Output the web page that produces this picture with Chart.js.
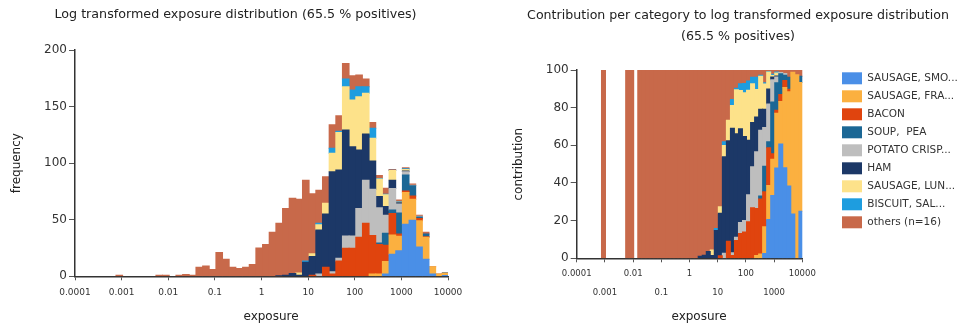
<!DOCTYPE html>
<html>
<head>
<meta charset="utf-8">
<script src="https://cdn.jsdelivr.net/npm/chart.js@4.4.0/dist/chart.umd.min.js"></script>
<style>
    html, body { margin: 0; padding: 0; background: #fff; overflow: hidden; }
    #graficoEsquerdo { position: absolute; left: 0; top: 0; }
    #graficoDireito { position: absolute; left: 512px; top: 0; }
</style>
</head>
<body>
<canvas id="graficoEsquerdo" width="471" height="331"></canvas>
<canvas id="graficoDireito" width="456" height="331"></canvas>
<script>
// Centro de cada classe do histograma, em log10(exposure)
var centrosClasses = [
    -3.050, -2.907, -2.764, -2.621, -2.478, -2.335, -2.193, -2.050, -1.907, -1.764,
    -1.621, -1.478, -1.335, -1.192, -1.050, -0.907, -0.764, -0.621, -0.478, -0.335,
    -0.192, -0.050,  0.093,  0.236,  0.379,  0.522,  0.665,  0.807,  0.950,  1.093,
     1.236,  1.379,  1.522,  1.665,  1.807,  1.950,  2.093,  2.236,  2.379,  2.522,
     2.664,  2.807,  2.950,  3.093,  3.236,  3.379,  3.521,  3.664,  3.807,  3.950
];

// Rotulos do eixo x (potencias de 10, de -4 a 4)
var rotulosEixoX = ['0.0001', '0.001', '0.01', '0.1', '1', '10', '100', '1000', '10000'];

// Frequencias por categoria (de baixo para cima na pilha)
var sausageSmo = [
    0, 0, 0, 0, 0, 0, 0, 0, 0, 0,
    0, 0, 0, 0, 0, 0, 0, 0, 0, 0,
    0, 0, 0, 0, 0, 0, 0, 0, 0, 0,
    0, 0, 0, 0, 0, 0, 0, 0, 0, 0,
    2, 19.5, 22.5, 46, 49.5, 26, 15, 2, 0, 0.75
];
var sausageFra = [
    0, 0, 0, 0, 0, 0, 0, 0, 0, 0,
    0, 0, 0, 0, 0, 0, 0, 0, 0, 0,
    0, 0, 0, 0, 0, 0, 0, 0, 0, 0,
    0, 0, 0, 0, 0, 0, 0, 0, 2, 2,
    11, 17, 13, 28, 18.5, 23, 19.5, 6.4, 1.95, 2.05
];
var bacon = [
    0, 0, 0, 0, 0, 0, 0, 0, 0, 0,
    0, 0, 0, 0, 0, 0, 0, 0, 0, 0,
    0, 0, 0, 0, 0, 0, 0, 0, 0, 1,
    0, 8, 2, 13.5, 24.7, 24.7, 34.5, 46.8, 34, 26,
    14.5, 19, 2, 1.5, 3, 2, 0.5, 0, 0, 0
];
var soupPea = [
    0, 0, 0, 0, 0, 0, 0, 0, 0, 0,
    0, 0, 0, 0, 0, 0, 0, 0, 0, 0,
    0, 0, 0, 0, 0, 0, 0, 0, 0, 0,
    0, 0, 0, 0, 0, 0, 0, 0, 0, 1.5,
    10.5, 3, 18.5, 14, 9, 1.5, 2.5, 0, 0, 0.1
];
var potatoCrisp = [
    0, 0, 0, 0, 0, 0, 0, 0, 0, 0,
    0, 0, 0, 0, 0, 0, 0, 0, 0, 0,
    0, 0, 0, 0, 0, 0, 0, 0, 0, 0,
    2, 0, 2, 2.4, 11, 11, 25.5, 38, 41, 31,
    16, 19, 8, 3, 0.5, 0.5, 0, 0, 0, 0
];
var ham = [
    0, 0, 0, 0, 0, 0, 0, 0, 0, 0,
    0, 0, 0, 0, 0, 0, 0, 0, 0, 0,
    0, 0, 0, 0, 0.5, 1, 2.5, 1, 12.5, 16.5,
    39, 47, 88.5, 78.1, 93.6, 78.9, 51.6, 41, 25, 10,
    7.6, 7.5, 1, 0.5, 0, 0, 0, 0, 0, 0
];
var sausageLun = [
    0, 0, 0, 0, 0, 0, 0, 0, 0, 0,
    0, 0, 0, 0, 0, 0, 0, 0, 0, 0,
    0, 0, 0, 0, 0, 0, 0, 2, 0, 2.5,
    4.5, 9.5, 16.2, 33.2, 38.3, 41.2, 47.2, 35.9, 20, 15.5,
    10.4, 8.5, 0.5, 1.5, 0, 0, 0, 0, 0, 0
];
var biscuitSal = [
    0, 0, 0, 0, 0, 0, 0, 0, 0, 0,
    0, 0, 0, 0, 0, 0, 0, 0, 0, 0,
    0, 0, 0, 0, 0, 0, 0, 0, 1, 0,
    1.5, 0, 4.4, 1, 6.8, 8.9, 8.8, 5.9, 8.8, 0.5,
    0.5, 0.3, 0.5, 0.5, 0, 0, 0, 0, 0, 0
];
var outros = [
    1, 0, 0, 0, 0, 0, 1, 1, 0, 1,
    1.5, 1, 8, 9, 6, 21, 15, 8, 7, 8,
    10.5, 25, 28, 39, 46.5, 59, 66.5, 65, 71.5, 53,
    29, 23.5, 20.9, 13.8, 13.6, 12.6, 10.4, 6.8, 5.2, 2.5,
    5.3, 0.7, 1.5, 1, 1.1, 1, 1.5, 0.1, 0.05, 0.1
];

var nomesSeries = ['SAUSAGE, SMO...', 'SAUSAGE, FRA...', 'BACON', 'SOUP,  PEA', 'POTATO CRISP...',
    'HAM', 'SAUSAGE, LUN...', 'BISCUIT, SAL...', 'others (n=16)'];
var coresSeries = ['#4a8fe7', '#fbb040', '#e0440e', '#1b6795', '#bebebe',
    '#1c3867', '#fde28a', '#1e9ddf', '#c8694a'];
var dadosSeries = [sausageSmo, sausageFra, bacon, soupPea, potatoCrisp, ham, sausageLun, biscuitSal, outros];

var FONTE = 'DejaVu Sans';
var corTexto = '#333';

// Total de cada classe, usado no grafico de contribuicao
var totais = centrosClasses.map(function(c, k) {
    return dadosSeries.reduce(function(soma, serie) { return soma + serie[k]; }, 0);
});

// Monta os datasets (contagens ou percentuais); zeros viram null para nao desenhar nada
function criarDatasets(percentual) {
    return dadosSeries.map(function(serie, i) {
        var dados = serie.map(function(v, k) {
            if (!v) return null;
            if (!percentual) return v;
            return v / totais[k] * 100;
        });
        return {
            label: nomesSeries[i],
            data: dados,
            backgroundColor: coresSeries[i],
            borderWidth: 0,
            barPercentage: 1,
            categoryPercentage: 1,
            inflateAmount: 0.5,
            clip: 0
        };
    });
}

function eixoVazio(largura) {
    return {
        position: 'right',
        grid: { display: false },
        border: { display: false },
        ticks: { display: false },
        afterFit: function(escala) { escala.width = largura; }
    };
}

// Grafico da esquerda: histograma de frequencias
new Chart(document.getElementById('graficoEsquerdo').getContext('2d'), {
    type: 'bar',
    data: { labels: centrosClasses, datasets: criarDatasets(false) },
    options: {
        animation: false,
        responsive: false,
        devicePixelRatio: 1,
        plugins: {
            legend: { display: false },
            tooltip: { enabled: false },
            title: {
                display: true,
                text: 'Log transformed exposure distribution (65.5 % positives)',
                color: '#222',
                font: { family: FONTE, size: 12.7, weight: 'normal', lineHeight: 1.2 },
                padding: { top: 7.4, bottom: 27.4 }
            }
        },
        scales: {
            x: {
                type: 'linear',
                min: -4,
                max: 4,
                offset: false,
                stacked: true,
                grid: { drawOnChartArea: false, drawTicks: true, tickLength: 4, tickColor: '#555', offset: false },
                border: { display: true, color: '#333', width: 1.5 },
                ticks: {
                    stepSize: 1,
                    autoSkip: false,
                    maxRotation: 0,
                    padding: 7,
                    color: corTexto,
                    font: { family: FONTE, size: 9 },
                    callback: function(valor) { return rotulosEixoX[valor + 4]; }
                },
                title: {
                    display: true,
                    text: '     exposure',
                    color: '#222',
                    font: { family: FONTE, size: 12, lineHeight: 1.2 },
                    padding: { top: 0, bottom: 6.8 }
                },
                afterFit: function(escala) { escala.height = 54.7; }
            },
            y: {
                stacked: true,
                min: 0,
                max: 200,
                grid: { drawOnChartArea: false, drawTicks: true, tickLength: 6, tickColor: '#555' },
                border: { display: true, color: '#333', width: 1.5 },
                ticks: { stepSize: 50, padding: 2, color: corTexto, font: { family: FONTE, size: 12 } },
                title: {
                    display: true,
                    text: 'frequency',
                    color: '#222',
                    font: { family: FONTE, size: 12, lineHeight: 1.2 },
                    padding: { top: 10, bottom: 0 }
                },
                afterFit: function(escala) { escala.width = 75; }
            },
            y2: eixoVazio(23)
        }
    }
});

// Grafico da direita: contribuicao percentual por categoria
new Chart(document.getElementById('graficoDireito').getContext('2d'), {
    type: 'bar',
    data: { labels: centrosClasses, datasets: criarDatasets(true) },
    options: {
        animation: false,
        responsive: false,
        devicePixelRatio: 1,
        layout: { padding: { right: 4 } },
        plugins: {
            tooltip: { enabled: false },
            title: {
                display: true,
                text: ['Contribution per category to log transformed exposure distribution', '(65.5 % positives)'],
                color: '#222',
                font: { family: FONTE, size: 12.6, weight: 'normal', lineHeight: 1.6 },
                padding: { top: 6, bottom: 23.7 }
            },
            legend: {
                position: 'right',
                align: 'start',
                maxWidth: 128,
                title: { display: true, text: '', font: { size: 12, lineHeight: 1.2 }, padding: { top: 26, bottom: 25.9 } },
                labels: {
                    boxWidth: 20,
                    boxHeight: 12,
                    padding: 6,
                    color: corTexto,
                    font: { family: FONTE, size: 10.5 }
                }
            }
        },
        scales: {
            x: {
                type: 'linear',
                min: -4,
                max: 4,
                offset: false,
                stacked: true,
                grid: { drawOnChartArea: false, drawTicks: true, tickLength: 4, tickColor: '#555', offset: false },
                border: { display: true, color: '#333', width: 1.5 },
                ticks: {
                    stepSize: 1,
                    autoSkip: false,
                    maxRotation: 0,
                    padding: 2,
                    color: corTexto,
                    font: { family: FONTE, size: 8.5, lineHeight: '19.3px' },
                    // rotulos alternados em duas linhas
                    callback: function(valor, indice) {
                        var texto = rotulosEixoX[valor + 4];
                        return indice % 2 === 0 ? texto : ['', texto];
                    }
                },
                title: {
                    display: true,
                    text: '     exposure',
                    color: '#222',
                    font: { family: FONTE, size: 12, lineHeight: 1.2 },
                    padding: { top: 0, bottom: 7.1 }
                },
                afterFit: function(escala) { escala.height = 72.7; }
            },
            y: {
                stacked: true,
                min: 0,
                max: 100,
                grid: { drawOnChartArea: false, drawTicks: true, tickLength: 6, tickColor: '#555' },
                border: { display: true, color: '#333', width: 1.5 },
                ticks: { stepSize: 20, padding: 2, color: corTexto, font: { family: FONTE, size: 12 } },
                title: {
                    display: true,
                    text: 'contribution',
                    color: '#222',
                    font: { family: FONTE, size: 12, lineHeight: 1.2 },
                    padding: { top: 0, bottom: 0 }
                },
                afterFit: function(escala) { escala.width = 64.7; }
            },
            y2: eixoVazio(33.7)
        }
    }
});
</script>
</body>
</html>
